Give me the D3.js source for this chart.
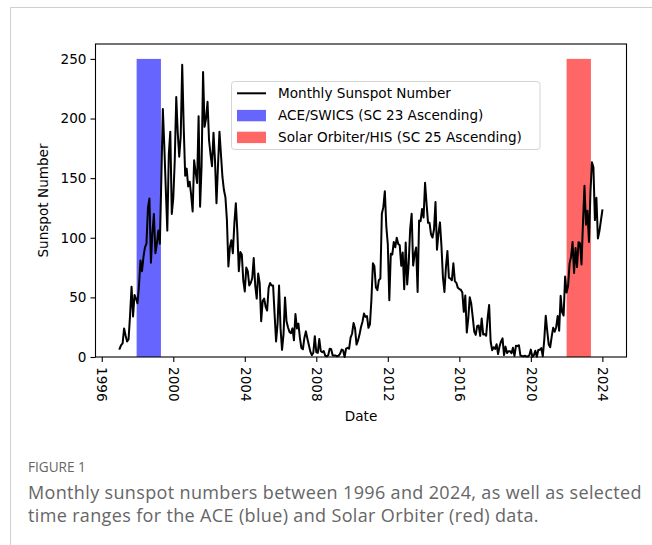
<!DOCTYPE html>
<html>
<head>
<meta charset="utf-8">
<script src="https://cdn.jsdelivr.net/npm/d3@7"></script>
<style>
  html, body { margin: 0; padding: 0; background: #ffffff; }
  svg { display: block; }
</style>
</head>
<body>
<svg id="fig" width="652" height="545"></svg>
<script>
// Monthly mean total sunspot number, one value per month starting January 1997
const firstYear = 1997;
const sunspots1997to2005 = [
  7, 10, 11.5, 24, 18, 13, 15, 35, 59, 34, 52, 49,
  45, 60, 81, 72, 84, 92, 95, 125, 133, 79, 104, 120,
  87, 95, 106, 95, 150, 208, 176, 140, 106, 170, 189, 120,
  133, 165, 218, 188, 168, 185, 245, 193, 152, 158, 143, 147,
  136, 122, 165, 155, 146, 202, 126, 160, 239, 193, 200, 214,
  182, 170, 160, 188, 165, 129, 160, 189, 170, 151, 140, 134,
  115, 76, 92, 98, 87, 112, 129, 105, 72, 88, 86, 64,
  55, 75, 72, 60, 62, 66, 83, 60, 49, 70, 62, 30,
  47, 49, 42, 39, 58, 62, 60, 60, 36, 13, 28, 60
];
const sunspots2006to2014 = [
  24, 6, 19, 50, 30, 25, 21, 20, 24, 14, 36, 24,
  28, 16, 7.5, 6.5, 16, 21.5, 15.5, 10, 4.5, 1.5, 3.5, 17.5,
  4, 3.5, 15, 5, 4, 5, 1, 0.5, 1.5, 7, 6.5, 1.2,
  1.3, 1.2, 0.6, 1.2, 2.9, 6.3, 5.5, 0, 7.1, 7.7, 6.9, 16.3,
  19.5, 28.5, 24.0, 10.4, 13.9, 18.8, 25.2, 29.6, 36.4, 33.6, 34.4, 24.5,
  27.3, 48.3, 78.6, 76.1, 58.2, 56.1, 64.5, 65.8, 120.1, 125.7, 139.1, 109.3,
  94.4, 47.6, 86.6, 85.9, 96.5, 92.0, 100.1, 94.8, 93.7, 76.5, 87.6, 56.8,
  96.1, 60.9, 78.3, 107.3, 120.2, 76.7, 86.2, 91.8, 54.5, 114.4, 113.9, 124.2,
  117.0, 146.1, 128.7, 112.5, 112.5, 102.9, 100.2, 106.9, 130.0, 90.0, 103.6, 112.9
];
const sunspots2015to2024 = [
  93.0, 66.7, 54.5, 75.3, 88.8, 66.5, 65.8, 64.4, 78.6, 63.6, 62.2, 58.0,
  57.0, 56.4, 54.1, 37.9, 51.5, 20.5, 32.4, 50.2, 44.6, 33.4, 21.4, 18.5,
  26.1, 26.4, 17.7, 32.3, 18.9, 19.2, 17.8, 32.6, 43.7, 13.2, 5.7, 8.2,
  6.8, 10.7, 2.5, 8.9, 13.1, 15.6, 1.6, 8.7, 3.3, 4.9, 4.9, 3.1,
  7.7, 0.8, 9.4, 9.1, 9.9, 1.2, 0.9, 0.5, 1.1, 0.4, 0.5, 1.5,
  6.2, 0.2, 1.5, 5.2, 0.2, 5.8, 6.1, 7.5, 0.6, 14.4, 34.5, 21.8,
  10.4, 8.2, 17.2, 24.5, 21.2, 25.0, 34.3, 22.0, 51.3, 37.4, 34.8, 67.5,
  54.0, 59.7, 78.5, 84.1, 96.5, 70.5, 91.4, 75.4, 96.3, 95.4, 77.6, 113.1,
  143.6, 110.9, 122.6, 96.4, 137.9, 163.4, 159.1, 114.8, 133.6, 99.4, 105.4, 114.2,
  123.0
];

// Shaded observation windows (decimal years) and their height
const spanLabels = ["ACE/SWICS (SC 23 Ascending)", "Solar Orbiter/HIS (SC 25 Ascending)"];
const spanStarts = [1997.95, 2022.0];
const spanEnds = [1999.31, 2023.36];
const spanTop = 250;
const spanColors = ["#6666ff", "#ff6666"];
const lineLabel = "Monthly Sunspot Number";

// Axis ticks
const xTicks = [1996, 2000, 2004, 2008, 2012, 2016, 2020, 2024];
const yTicks = [0, 50, 100, 150, 200, 250];

const xTitle = "Date";
const yTitle = "Sunspot Number";
const figureTag = "FIGURE 1";
const captionLines = [
  "Monthly sunspot numbers between 1996 and 2024, as well as selected",
  "time ranges for the ACE (blue) and Solar Orbiter (red) data."
];

const FONT = "'DejaVu Sans', sans-serif";
const FS = 13.6;

const series = sunspots1997to2005.concat(sunspots2006to2014, sunspots2015to2024)
  .map((v, i) => ({ t: firstYear + i / 12, v }));

const svg = d3.select("#fig");

// Page frame (top and left rules)
svg.append("line").attr("x1", 10.5).attr("x2", 652).attr("y1", 7.5).attr("y2", 7.5)
  .attr("stroke", "#cfcfcf").attr("stroke-width", 1);
svg.append("line").attr("x1", 10.5).attr("x2", 10.5).attr("y1", 7.5).attr("y2", 545)
  .attr("stroke", "#cfcfcf").attr("stroke-width", 1);

const plot = { left: 95.5, right: 626.5, top: 44, bottom: 357 };

// Auto limits with 5% padding on the time axis, y from zero
const tMin = d3.min(series, d => d.t), tMax = d3.max(series, d => d.t);
const pad = (tMax - tMin) * 0.05;
const x = d3.scaleLinear().domain([tMin - pad, tMax + pad]).range([plot.left, plot.right]);
const y = d3.scaleLinear().domain([0, spanTop * 1.05]).range([plot.bottom, plot.top]);

const g = svg.append("g");

// Observation windows
g.selectAll("rect.span")
  .data(spanStarts.map((s, i) => ({ s, e: spanEnds[i], c: spanColors[i] })))
  .join("rect")
  .attr("class", "span")
  .attr("x", d => x(d.s))
  .attr("width", d => x(d.e) - x(d.s))
  .attr("y", y(spanTop))
  .attr("height", y(0) - y(spanTop))
  .attr("fill", d => d.c);

// Sunspot line
g.append("path")
  .datum(series)
  .attr("fill", "none")
  .attr("stroke", "#000")
  .attr("stroke-width", 2)
  .attr("stroke-linejoin", "round")
  .attr("stroke-linecap", "square")
  .attr("d", d3.line().x(d => x(d.t)).y(d => y(d.v)));

// Frame around the axes
g.append("rect")
  .attr("x", plot.left).attr("y", plot.top)
  .attr("width", plot.right - plot.left).attr("height", plot.bottom - plot.top)
  .attr("fill", "none").attr("stroke", "#000").attr("stroke-width", 1.1);

// Y axis
const yAxis = svg.append("g")
  .attr("transform", `translate(${plot.left},0)`)
  .call(d3.axisLeft(y).tickValues(yTicks).tickSize(5).tickPadding(4).tickSizeOuter(0));
yAxis.select(".domain").remove();
yAxis.selectAll("line").attr("stroke", "#000").attr("stroke-width", 1.1);
yAxis.selectAll("text").attr("font-family", FONT).attr("font-size", FS).attr("fill", "#000");

// X axis with labels turned a quarter clockwise
const xAxis = svg.append("g")
  .attr("transform", `translate(0,${plot.bottom})`)
  .call(d3.axisBottom(x).tickValues(xTicks).tickFormat(d3.format("d")).tickSize(5).tickSizeOuter(0));
xAxis.select(".domain").remove();
xAxis.selectAll("line").attr("stroke", "#000").attr("stroke-width", 1.1);
xAxis.selectAll("text")
  .attr("font-family", FONT).attr("font-size", FS).attr("fill", "#000")
  .attr("y", 0).attr("x", 10).attr("dy", "0.35em")
  .attr("text-anchor", "start")
  .attr("transform", "rotate(90)");

// Axis titles
svg.append("text")
  .attr("x", (plot.left + plot.right) / 2).attr("y", 421)
  .attr("text-anchor", "middle")
  .attr("font-family", FONT).attr("font-size", FS).text(xTitle);
svg.append("text")
  .attr("transform", `translate(48,${(plot.top + plot.bottom) / 2}) rotate(-90)`)
  .attr("text-anchor", "middle")
  .attr("font-family", FONT).attr("font-size", FS).text(yTitle);

// Legend
const lg = svg.append("g");
lg.append("rect")
  .attr("x", 231.5).attr("y", 81.5).attr("width", 308.5).attr("height", 68)
  .attr("rx", 3).attr("fill", "#fff").attr("fill-opacity", 0.8)
  .attr("stroke", "#d4d4d4").attr("stroke-width", 1);
const rows = [93.3, 115.6, 137.4];
lg.append("line").attr("x1", 237).attr("x2", 266).attr("y1", rows[0]).attr("y2", rows[0])
  .attr("stroke", "#000").attr("stroke-width", 2);
spanColors.forEach((c, i) => {
  lg.append("rect").attr("x", 237).attr("y", rows[i + 1] - 5.7).attr("width", 29).attr("height", 11.4)
    .attr("fill", c);
});
[lineLabel].concat(spanLabels).forEach((t, i) => {
  lg.append("text").attr("x", 278).attr("y", rows[i]).attr("dy", "0.35em")
    .attr("font-family", FONT).attr("font-size", FS).attr("fill", "#000").text(t);
});

// Caption
svg.append("text").attr("x", 28).attr("y", 472)
  .attr("font-family", "'Open Sans', sans-serif").attr("font-size", 13.6)
  .attr("font-weight", 500).attr("fill", "#666").text(figureTag);
captionLines.forEach((t, i) => {
  svg.append("text").attr("x", 28).attr("y", 499 + i * 23)
    .attr("font-family", "'Open Sans', sans-serif").attr("font-size", 18)
    .attr("font-weight", 400).attr("letter-spacing", 0.35)
    .attr("fill", "#666").text(t);
});
</script>
</body>
</html>
